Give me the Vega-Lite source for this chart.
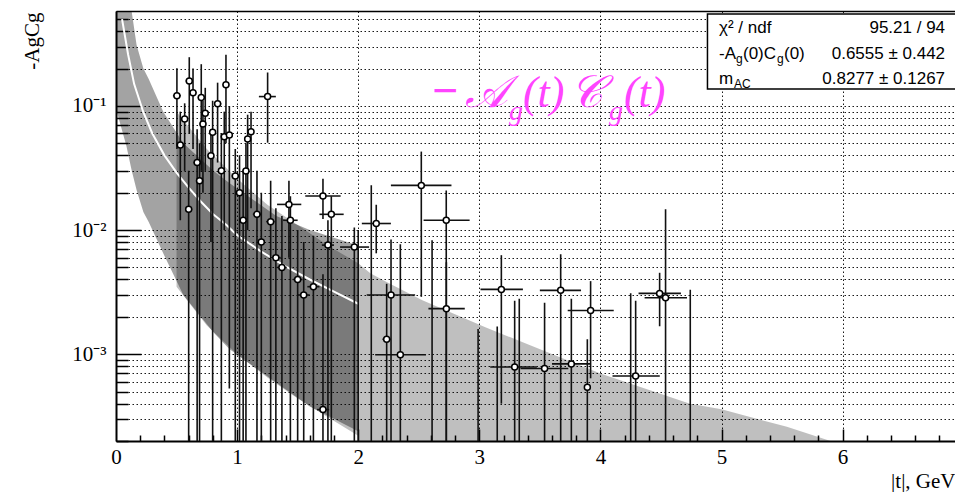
{
  "$schema": "https://vega.github.io/schema/vega-lite/v6.json",
  "width": 839,
  "height": 430,
  "autosize": {"type": "none"},
  "padding": {"left": 116, "top": 11, "right": 0, "bottom": 51},
  "background": "white",
  "config": {
    "view": {"stroke": null},
    "axis": {"labelColor": "black", "tickColor": "black", "domainColor": "black", "titleColor": "black"}
  },
  "datasets": {
    "bandB": [
      {"t": 0.5, "lo": 0.0035, "hi": 0.09},
      {"t": 0.75, "lo": 0.0017, "hi": 0.045},
      {"t": 1.0, "lo": 0.001, "hi": 0.026},
      {"t": 1.25, "lo": 0.00065, "hi": 0.016},
      {"t": 1.5, "lo": 0.00044, "hi": 0.011},
      {"t": 1.75, "lo": 0.00031, "hi": 0.0075},
      {"t": 2.0, "lo": 0.00022, "hi": 0.0054},
      {"t": 2.1, "lo": 0.00001, "hi": 0.0045},
      {"t": 2.25, "lo": 0.00001, "hi": 0.00374},
      {"t": 2.53, "lo": 0.00001, "hi": 0.00272},
      {"t": 3.05, "lo": 0.00001, "hi": 0.00165},
      {"t": 3.42, "lo": 0.00001, "hi": 0.00118},
      {"t": 4.0, "lo": 0.00001, "hi": 0.0007},
      {"t": 4.74, "lo": 0.00001, "hi": 0.0004},
      {"t": 5.0, "lo": 0.00001, "hi": 0.00036},
      {"t": 5.54, "lo": 0.00001, "hi": 0.00026},
      {"t": 5.9, "lo": 0.00001, "hi": 0.0002},
      {"t": 6.0, "lo": 0.00001, "hi": 0.00018}
    ],
    "bandA": [
      {"t": 0.0, "lo": 0.095, "hi": 2.0},
      {"t": 0.085, "lo": 0.048, "hi": 0.9},
      {"t": 0.13, "lo": 0.03, "hi": 0.57},
      {"t": 0.17, "lo": 0.021, "hi": 0.31},
      {"t": 0.226, "lo": 0.014, "hi": 0.2},
      {"t": 0.27, "lo": 0.0116, "hi": 0.165},
      {"t": 0.39, "lo": 0.0065, "hi": 0.09},
      {"t": 0.556, "lo": 0.003, "hi": 0.05},
      {"t": 0.804, "lo": 0.0015, "hi": 0.03},
      {"t": 0.936, "lo": 0.0011, "hi": 0.024},
      {"t": 1.324, "lo": 0.00059, "hi": 0.013},
      {"t": 1.6, "lo": 0.00038, "hi": 0.01},
      {"t": 2.0, "lo": 0.00024, "hi": 0.0075}
    ],
    "fit": [
      {"t": 0.05, "f": 0.5}, {"t": 0.1, "f": 0.26}, {"t": 0.15, "f": 0.15}, {"t": 0.225, "f": 0.0895},
      {"t": 0.3, "f": 0.06}, {"t": 0.4, "f": 0.04}, {"t": 0.5, "f": 0.029}, {"t": 0.6, "f": 0.022},
      {"t": 0.7, "f": 0.017}, {"t": 0.8, "f": 0.0135}, {"t": 0.912, "f": 0.011}, {"t": 1.0, "f": 0.0091},
      {"t": 1.2, "f": 0.0067}, {"t": 1.4, "f": 0.0051}, {"t": 1.6, "f": 0.004}, {"t": 1.8, "f": 0.0032},
      {"t": 2.0, "f": 0.00255}
    ],
    "pts": [
      {"t": 0.503, "tl": 0.47, "th": 0.535, "v": 0.121, "vl": 0.045, "vh": 0.201},
      {"t": 0.531, "tl": 0.5, "th": 0.56, "v": 0.0484, "vl": 0.012, "vh": 0.09},
      {"t": 0.567, "tl": 0.54, "th": 0.595, "v": 0.0786, "vl": 0.03, "vh": 0.105},
      {"t": 0.6, "tl": 0.57, "th": 0.63, "v": 0.0147, "vl": 0.000001, "vh": 0.03},
      {"t": 0.605, "tl": 0.575, "th": 0.635, "v": 0.159, "vl": 0.06, "vh": 0.247},
      {"t": 0.636, "tl": 0.61, "th": 0.665, "v": 0.128, "vl": 0.045, "vh": 0.2},
      {"t": 0.67, "tl": 0.64, "th": 0.7, "v": 0.035, "vl": 0.000001, "vh": 0.065},
      {"t": 0.69, "tl": 0.66, "th": 0.72, "v": 0.025, "vl": 0.000001, "vh": 0.05},
      {"t": 0.704, "tl": 0.675, "th": 0.735, "v": 0.117, "vl": 0.03, "vh": 0.217},
      {"t": 0.718, "tl": 0.69, "th": 0.745, "v": 0.0716, "vl": 0.02, "vh": 0.11},
      {"t": 0.737, "tl": 0.71, "th": 0.765, "v": 0.0873, "vl": 0.03, "vh": 0.14},
      {"t": 0.784, "tl": 0.755, "th": 0.81, "v": 0.0398, "vl": 0.008, "vh": 0.065},
      {"t": 0.798, "tl": 0.77, "th": 0.825, "v": 0.0613, "vl": 0.000001, "vh": 0.11},
      {"t": 0.839, "tl": 0.81, "th": 0.87, "v": 0.104, "vl": 0.035, "vh": 0.154},
      {"t": 0.87, "tl": 0.845, "th": 0.895, "v": 0.03, "vl": 0.000001, "vh": 0.06},
      {"t": 0.894, "tl": 0.865, "th": 0.92, "v": 0.0565, "vl": 0.01, "vh": 0.09},
      {"t": 0.908, "tl": 0.88, "th": 0.935, "v": 0.148, "vl": 0.05, "vh": 0.258},
      {"t": 0.936, "tl": 0.91, "th": 0.96, "v": 0.0583, "vl": 0.00053, "vh": 0.1},
      {"t": 0.985, "tl": 0.955, "th": 1.015, "v": 0.0273, "vl": 0.000001, "vh": 0.045},
      {"t": 1.02, "tl": 0.99, "th": 1.05, "v": 0.02, "vl": 0.000001, "vh": 0.04},
      {"t": 1.05, "tl": 1.02, "th": 1.08, "v": 0.012, "vl": 0.000001, "vh": 0.03},
      {"t": 1.073, "tl": 1.045, "th": 1.1, "v": 0.0299, "vl": 0.000001, "vh": 0.05},
      {"t": 1.087, "tl": 1.06, "th": 1.115, "v": 0.0542, "vl": 0.01, "vh": 0.085},
      {"t": 1.115, "tl": 1.09, "th": 1.14, "v": 0.0621, "vl": 0.015, "vh": 0.09},
      {"t": 1.164, "tl": 1.13, "th": 1.2, "v": 0.0134, "vl": 0.000001, "vh": 0.03},
      {"t": 1.2, "tl": 1.17, "th": 1.23, "v": 0.008, "vl": 0.000001, "vh": 0.02},
      {"t": 1.252, "tl": 1.18, "th": 1.32, "v": 0.119, "vl": 0.0506, "vh": 0.186},
      {"t": 1.277, "tl": 1.24, "th": 1.31, "v": 0.0117, "vl": 0.000001, "vh": 0.025},
      {"t": 1.32, "tl": 1.28, "th": 1.36, "v": 0.006, "vl": 0.000001, "vh": 0.015},
      {"t": 1.37, "tl": 1.33, "th": 1.41, "v": 0.005, "vl": 0.000001, "vh": 0.013},
      {"t": 1.428, "tl": 1.33, "th": 1.53, "v": 0.0161, "vl": 0.006, "vh": 0.025},
      {"t": 1.44, "tl": 1.38, "th": 1.5, "v": 0.012, "vl": 0.000001, "vh": 0.0187},
      {"t": 1.5, "tl": 1.46, "th": 1.54, "v": 0.004, "vl": 0.000001, "vh": 0.01},
      {"t": 1.55, "tl": 1.5, "th": 1.6, "v": 0.003, "vl": 0.000001, "vh": 0.008},
      {"t": 1.63, "tl": 1.58, "th": 1.68, "v": 0.0035, "vl": 0.000001, "vh": 0.009},
      {"t": 1.709, "tl": 1.563, "th": 1.855, "v": 0.0188, "vl": 0.0123, "vh": 0.0259},
      {"t": 1.778, "tl": 1.68, "th": 1.88, "v": 0.0134, "vl": 0.000001, "vh": 0.0187},
      {"t": 1.75, "tl": 1.7, "th": 1.8, "v": 0.00757, "vl": 0.000001, "vh": 0.012},
      {"t": 1.709, "tl": 1.66, "th": 1.76, "v": 0.000358, "vl": 0.000001, "vh": 0.0044},
      {"t": 1.968, "tl": 1.85, "th": 2.09, "v": 0.0073, "vl": 0.000001, "vh": 0.0105},
      {"t": 2.149, "tl": 2.03, "th": 2.27, "v": 0.0113, "vl": 0.0065, "vh": 0.016},
      {"t": 2.521, "tl": 2.27, "th": 2.77, "v": 0.0229, "vl": 0.0029, "vh": 0.0429},
      {"t": 2.727, "tl": 2.54, "th": 2.92, "v": 0.012, "vl": 0.000001, "vh": 0.0208},
      {"t": 2.271, "tl": 2.07, "th": 2.47, "v": 0.003, "vl": 0.000001, "vh": 0.0084},
      {"t": 2.235, "tl": 2.2, "th": 2.27, "v": 0.00132, "vl": 0.000001, "vh": 0.0037},
      {"t": 2.348, "tl": 2.14, "th": 2.56, "v": 0.00099, "vl": 0.000001, "vh": 0.0077},
      {"t": 2.728, "tl": 2.58, "th": 2.88, "v": 0.00233, "vl": 0.000001, "vh": 0.0055},
      {"t": 3.182, "tl": 3.01, "th": 3.36, "v": 0.00333, "vl": 0.0004, "vh": 0.00628},
      {"t": 3.672, "tl": 3.5, "th": 3.84, "v": 0.00327, "vl": 0.000001, "vh": 0.0064},
      {"t": 3.919, "tl": 3.73, "th": 4.11, "v": 0.00225, "vl": 0.00064, "vh": 0.00388},
      {"t": 3.292, "tl": 3.09, "th": 3.475, "v": 0.00079, "vl": 0.000001, "vh": 0.0027},
      {"t": 3.539, "tl": 3.34, "th": 3.735, "v": 0.000767, "vl": 0.000001, "vh": 0.0026},
      {"t": 3.76, "tl": 3.6, "th": 3.92, "v": 0.000836, "vl": 0.000001, "vh": 0.0028},
      {"t": 3.892, "tl": 3.87, "th": 3.915, "v": 0.000542, "vl": 0.000001, "vh": 0.00132},
      {"t": 4.291, "tl": 4.1, "th": 4.49, "v": 0.000668, "vl": 0.000001, "vh": 0.0027},
      {"t": 4.489, "tl": 4.315, "th": 4.665, "v": 0.00309, "vl": 0.00168, "vh": 0.00453},
      {"t": 4.538, "tl": 4.365, "th": 4.715, "v": 0.00285, "vl": 0.000001, "vh": 0.0147},
      {"t": 2.0, "tl": null, "th": null, "v": null, "vl": 0.000001, "vh": 0.01},
      {"t": 2.108, "tl": null, "th": null, "v": null, "vl": 0.000001, "vh": 0.023},
      {"t": 2.61, "tl": null, "th": null, "v": null, "vl": 0.000001, "vh": 0.0083},
      {"t": 2.99, "tl": null, "th": null, "v": null, "vl": 0.000001, "vh": 0.0016},
      {"t": 3.148, "tl": null, "th": null, "v": null, "vl": 0.000001, "vh": 0.00167},
      {"t": 3.33, "tl": null, "th": null, "v": null, "vl": 0.000001, "vh": 0.0028},
      {"t": 4.25, "tl": null, "th": null, "v": null, "vl": 0.000001, "vh": 0.0031},
      {"t": 4.742, "tl": null, "th": null, "v": null, "vl": 0.000001, "vh": 0.0033}
    ],
    "stats": [
      {"key": "chi", "a": "χ² / ndf", "val": "95.21 / 94"},
      {"key": "amp", "a": "-A", "s1": "g", "b": "(0)C", "s2": "g", "c": "(0)", "val": "0.6555 ± 0.442"},
      {"key": "mass", "a": "m", "s1": "AC", "val": "0.8277 ± 0.1267"}
    ],
    "label": [
      {"m": "−", "A": "𝒜", "g": "g", "p": "(t)", "C": "𝒞"}
    ]
  },
  "resolve": {"axis": {"x": "independent", "y": "independent"}},
  "layer": [
    {
      "data": {"name": "bandB"},
      "mark": {"type": "area", "color": "#000000", "opacity": 0.25, "clip": true},
      "encoding": {
        "x": {"field": "t", "type": "quantitative", "scale": {"domain": [0, 6.928], "nice": false, "zero": false},
          "axis": {"orient": "bottom", "values": [0, 1, 2, 3, 4, 5, 6], "format": "d", "ticks": false,
            "labelFont": "Liberation Serif", "labelFontSize": 21, "labelPadding": 5, "labelFlush": false, "labelOverlap": false,
            "grid": true, "gridColor": "black", "gridDash": [1.5, 2.5], "gridWidth": 1, "gridOpacity": 0.9,
            "domain": true, "domainWidth": 2,
            "title": "|t|, GeV", "titleFont": "Liberation Serif", "titleFontSize": 21, "titleFontWeight": "normal",
            "titleAnchor": "end", "titleAlign": "right", "titleBaseline": "alphabetic", "titleX": 839, "titleY": 46}},
        "y": {"field": "hi", "type": "quantitative", "scale": {"type": "log", "domain": [0.0002, 0.582], "nice": false},
          "axis": {"orient": "left",
            "values": [0.0002, 0.0003, 0.0004, 0.0005, 0.0006, 0.0007, 0.0008, 0.0009, 0.001, 0.002, 0.003, 0.004, 0.005, 0.006, 0.007, 0.008, 0.009, 0.01, 0.02, 0.03, 0.04, 0.05, 0.06, 0.07, 0.08, 0.09, 0.1, 0.2, 0.3, 0.4, 0.5],
            "labelExpr": "abs(datum.value-0.1)<1e-9 ? '10⁻¹' : abs(datum.value-0.01)<1e-10 ? '10⁻²' : abs(datum.value-0.001)<1e-11 ? '10⁻³' : ''",
            "ticks": false, "labelFont": "Liberation Serif", "labelFontSize": 21, "labelPadding": 10, "labelBaseline": "middle",
            "labelFlush": false, "labelOverlap": false,
            "grid": true, "gridColor": "black", "gridDash": [1.5, 2.5], "gridWidth": 1, "gridOpacity": 0.9,
            "domain": true, "domainWidth": 2,
            "title": "-AgCg", "titleFont": "Liberation Serif", "titleFontSize": 21, "titleFontWeight": "normal",
            "titleAngle": 270, "titleAlign": "right", "titleBaseline": "alphabetic", "titleX": -78, "titleY": 1}},
        "y2": {"field": "lo"}
      }
    },
    {
      "data": {"name": "bandA"},
      "mark": {"type": "area", "color": "#000000", "opacity": 0.36, "clip": true},
      "encoding": {
        "x": {"field": "t", "type": "quantitative", "scale": {"domain": [0, 6.928], "nice": false, "zero": false},
          "axis": {"orient": "bottom", "values": [1, 2, 3, 4, 5, 6], "labels": false, "grid": false, "domain": false,
            "ticks": true, "tickSize": -12, "tickWidth": 1.5, "title": null}},
        "y": {"field": "hi", "type": "quantitative", "scale": {"type": "log", "domain": [0.0002, 0.582], "nice": false},
          "axis": {"orient": "left", "values": [0.001, 0.01, 0.1], "labels": false, "grid": false, "domain": false,
            "ticks": true, "tickSize": -25, "tickWidth": 1.5, "title": null}},
        "y2": {"field": "lo"}
      }
    },
    {
      "data": {"name": "fit"},
      "mark": {"type": "line", "color": "white", "strokeWidth": 2, "clip": true},
      "encoding": {
        "x": {"field": "t", "type": "quantitative", "scale": {"domain": [0, 6.928], "nice": false, "zero": false},
          "axis": {"orient": "bottom", "values": [0.2, 0.4, 0.6, 0.8, 1.2, 1.4, 1.6, 1.8, 2.2, 2.4, 2.6, 2.8, 3.2, 3.4, 3.6, 3.8, 4.2, 4.4, 4.6, 4.8, 5.2, 5.4, 5.6, 5.8, 6.2, 6.4, 6.6, 6.8],
            "labels": false, "grid": false, "domain": false, "ticks": true, "tickSize": -6, "tickWidth": 1.5, "title": null}},
        "y": {"field": "f", "type": "quantitative", "scale": {"type": "log", "domain": [0.0002, 0.582], "nice": false},
          "axis": {"orient": "left",
            "values": [0.0002, 0.0003, 0.0004, 0.0005, 0.0006, 0.0007, 0.0008, 0.0009, 0.002, 0.003, 0.004, 0.005, 0.006, 0.007, 0.008, 0.009, 0.02, 0.03, 0.04, 0.05, 0.06, 0.07, 0.08, 0.09, 0.2, 0.3, 0.4, 0.5],
            "labels": false, "grid": false, "domain": false, "ticks": true, "tickSize": -12, "tickWidth": 1.5, "title": null}}
      }
    },
    {
      "data": {"name": "pts"},
      "mark": {"type": "rule", "color": "#111111", "strokeWidth": 1.6, "clip": true},
      "encoding": {
        "x": {"field": "t", "type": "quantitative", "scale": {"domain": [0, 6.928], "nice": false, "zero": false},
          "axis": {"orient": "top", "labels": false, "ticks": false, "grid": false, "domain": true, "domainWidth": 1.5, "title": null}},
        "y": {"field": "vl", "type": "quantitative", "scale": {"type": "log", "domain": [0.0002, 0.582], "nice": false}, "axis": null},
        "y2": {"field": "vh"}
      }
    },
    {
      "data": {"name": "pts"},
      "transform": [{"filter": "datum.v != null"}],
      "mark": {"type": "rule", "color": "#111111", "strokeWidth": 1.6, "clip": true},
      "encoding": {
        "x": {"field": "tl", "type": "quantitative", "scale": {"domain": [0, 6.928], "nice": false, "zero": false}, "axis": null},
        "x2": {"field": "th"},
        "y": {"field": "v", "type": "quantitative", "scale": {"type": "log", "domain": [0.0002, 0.582], "nice": false}, "axis": null}
      }
    },
    {
      "data": {"name": "pts"},
      "transform": [{"filter": "datum.v != null && datum.v > 0.0002"}],
      "mark": {"type": "point", "shape": "circle", "filled": true, "fill": "white", "stroke": "black", "strokeWidth": 1.5, "size": 36, "opacity": 1, "clip": true},
      "encoding": {
        "x": {"field": "t", "type": "quantitative", "scale": {"domain": [0, 6.928], "nice": false, "zero": false}, "axis": null},
        "y": {"field": "v", "type": "quantitative", "scale": {"type": "log", "domain": [0.0002, 0.582], "nice": false}, "axis": null}
      }
    },
    {
      "data": {"name": "stats"},
      "transform": [{"filter": "datum.key == 'chi'"}],
      "mark": {"type": "rect", "fill": "white", "stroke": "black", "strokeWidth": 1.5},
      "encoding": {
        "x": {"datum": 4.884, "type": "quantitative", "scale": {"domain": [0, 6.928], "nice": false, "zero": false}, "axis": null},
        "x2": {"datum": 7.1},
        "y": {"datum": 0.5504, "type": "quantitative", "scale": {"type": "log", "domain": [0.0002, 0.582], "nice": false}, "axis": null},
        "y2": {"datum": 0.1369}
      }
    },
    {
      "data": {"name": "stats"},
      "transform": [{"filter": "datum.key == 'chi'"}],
      "mark": {"type": "text", "font": "Liberation Sans", "fontSize": 17, "align": "left", "baseline": "alphabetic", "color": "black"},
      "encoding": {
        "x": {"datum": 4.979, "type": "quantitative", "scale": {"domain": [0, 6.928], "nice": false, "zero": false}, "axis": null},
        "y": {"datum": 0.3847, "type": "quantitative", "scale": {"type": "log", "domain": [0.0002, 0.582], "nice": false}, "axis": null},
        "text": {"field": "a"}
      }
    },
    {
      "data": {"name": "stats"},
      "transform": [{"filter": "datum.key == 'chi'"}],
      "mark": {"type": "text", "font": "Liberation Sans", "fontSize": 17, "align": "right", "baseline": "alphabetic", "color": "black"},
      "encoding": {
        "x": {"datum": 6.846, "type": "quantitative", "scale": {"domain": [0, 6.928], "nice": false, "zero": false}, "axis": null},
        "y": {"datum": 0.3847, "type": "quantitative", "scale": {"type": "log", "domain": [0.0002, 0.582], "nice": false}, "axis": null},
        "text": {"field": "val"}
      }
    },
    {
      "data": {"name": "stats"},
      "transform": [{"filter": "datum.key == 'amp'"}],
      "mark": {"type": "text", "font": "Liberation Sans", "fontSize": 17, "align": "left", "baseline": "alphabetic", "color": "black"},
      "encoding": {
        "x": {"datum": 4.979, "type": "quantitative", "scale": {"domain": [0, 6.928], "nice": false, "zero": false}, "axis": null},
        "y": {"datum": 0.2388, "type": "quantitative", "scale": {"type": "log", "domain": [0.0002, 0.582], "nice": false}, "axis": null},
        "text": {"field": "a"}
      }
    },
    {
      "data": {"name": "stats"},
      "transform": [{"filter": "datum.key == 'amp'"}],
      "mark": {"type": "text", "font": "Liberation Sans", "fontSize": 12, "align": "left", "baseline": "alphabetic", "color": "black", "dx": 17, "dy": 4},
      "encoding": {
        "x": {"datum": 4.979, "type": "quantitative", "scale": {"domain": [0, 6.928], "nice": false, "zero": false}, "axis": null},
        "y": {"datum": 0.2388, "type": "quantitative", "scale": {"type": "log", "domain": [0.0002, 0.582], "nice": false}, "axis": null},
        "text": {"field": "s1"}
      }
    },
    {
      "data": {"name": "stats"},
      "transform": [{"filter": "datum.key == 'amp'"}],
      "mark": {"type": "text", "font": "Liberation Sans", "fontSize": 17, "align": "left", "baseline": "alphabetic", "color": "black", "dx": 24},
      "encoding": {
        "x": {"datum": 4.979, "type": "quantitative", "scale": {"domain": [0, 6.928], "nice": false, "zero": false}, "axis": null},
        "y": {"datum": 0.2388, "type": "quantitative", "scale": {"type": "log", "domain": [0.0002, 0.582], "nice": false}, "axis": null},
        "text": {"field": "b"}
      }
    },
    {
      "data": {"name": "stats"},
      "transform": [{"filter": "datum.key == 'amp'"}],
      "mark": {"type": "text", "font": "Liberation Sans", "fontSize": 12, "align": "left", "baseline": "alphabetic", "color": "black", "dx": 58, "dy": 4},
      "encoding": {
        "x": {"datum": 4.979, "type": "quantitative", "scale": {"domain": [0, 6.928], "nice": false, "zero": false}, "axis": null},
        "y": {"datum": 0.2388, "type": "quantitative", "scale": {"type": "log", "domain": [0.0002, 0.582], "nice": false}, "axis": null},
        "text": {"field": "s2"}
      }
    },
    {
      "data": {"name": "stats"},
      "transform": [{"filter": "datum.key == 'amp'"}],
      "mark": {"type": "text", "font": "Liberation Sans", "fontSize": 17, "align": "left", "baseline": "alphabetic", "color": "black", "dx": 65},
      "encoding": {
        "x": {"datum": 4.979, "type": "quantitative", "scale": {"domain": [0, 6.928], "nice": false, "zero": false}, "axis": null},
        "y": {"datum": 0.2388, "type": "quantitative", "scale": {"type": "log", "domain": [0.0002, 0.582], "nice": false}, "axis": null},
        "text": {"field": "c"}
      }
    },
    {
      "data": {"name": "stats"},
      "transform": [{"filter": "datum.key == 'amp'"}],
      "mark": {"type": "text", "font": "Liberation Sans", "fontSize": 17, "align": "right", "baseline": "alphabetic", "color": "black"},
      "encoding": {
        "x": {"datum": 6.846, "type": "quantitative", "scale": {"domain": [0, 6.928], "nice": false, "zero": false}, "axis": null},
        "y": {"datum": 0.2388, "type": "quantitative", "scale": {"type": "log", "domain": [0.0002, 0.582], "nice": false}, "axis": null},
        "text": {"field": "val"}
      }
    },
    {
      "data": {"name": "stats"},
      "transform": [{"filter": "datum.key == 'mass'"}],
      "mark": {"type": "text", "font": "Liberation Sans", "fontSize": 17, "align": "left", "baseline": "alphabetic", "color": "black"},
      "encoding": {
        "x": {"datum": 4.979, "type": "quantitative", "scale": {"domain": [0, 6.928], "nice": false, "zero": false}, "axis": null},
        "y": {"datum": 0.1516, "type": "quantitative", "scale": {"type": "log", "domain": [0.0002, 0.582], "nice": false}, "axis": null},
        "text": {"field": "a"}
      }
    },
    {
      "data": {"name": "stats"},
      "transform": [{"filter": "datum.key == 'mass'"}],
      "mark": {"type": "text", "font": "Liberation Sans", "fontSize": 12, "align": "left", "baseline": "alphabetic", "color": "black", "dx": 15, "dy": 4},
      "encoding": {
        "x": {"datum": 4.979, "type": "quantitative", "scale": {"domain": [0, 6.928], "nice": false, "zero": false}, "axis": null},
        "y": {"datum": 0.1516, "type": "quantitative", "scale": {"type": "log", "domain": [0.0002, 0.582], "nice": false}, "axis": null},
        "text": {"field": "s1"}
      }
    },
    {
      "data": {"name": "stats"},
      "transform": [{"filter": "datum.key == 'mass'"}],
      "mark": {"type": "text", "font": "Liberation Sans", "fontSize": 17, "align": "right", "baseline": "alphabetic", "color": "black"},
      "encoding": {
        "x": {"datum": 6.846, "type": "quantitative", "scale": {"domain": [0, 6.928], "nice": false, "zero": false}, "axis": null},
        "y": {"datum": 0.1516, "type": "quantitative", "scale": {"type": "log", "domain": [0.0002, 0.582], "nice": false}, "axis": null},
        "text": {"field": "val"}
      }
    },
    {
      "data": {"name": "label"},
      "mark": {"type": "text", "font": "Liberation Serif", "fontSize": 46, "fontWeight": "bold", "align": "left", "baseline": "alphabetic", "color": "#ff44ff", "dx": 0, "dy": -1},
      "encoding": {
        "x": {"datum": 2.609, "type": "quantitative", "scale": {"domain": [0, 6.928], "nice": false, "zero": false}, "axis": null},
        "y": {"datum": 0.098, "type": "quantitative", "scale": {"type": "log", "domain": [0.0002, 0.582], "nice": false}, "axis": null},
        "text": {"field": "m"}
      }
    },
    {
      "data": {"name": "label"},
      "mark": {"type": "text", "font": "Liberation Serif", "fontSize": 45, "fontStyle": "italic", "align": "left", "baseline": "alphabetic", "color": "#ff44ff", "dx": 33},
      "encoding": {
        "x": {"datum": 2.609, "type": "quantitative", "scale": {"domain": [0, 6.928], "nice": false, "zero": false}, "axis": null},
        "y": {"datum": 0.098, "type": "quantitative", "scale": {"type": "log", "domain": [0.0002, 0.582], "nice": false}, "axis": null},
        "text": {"field": "A"}
      }
    },
    {
      "data": {"name": "label"},
      "mark": {"type": "text", "font": "Liberation Serif", "fontSize": 28, "fontStyle": "italic", "align": "left", "baseline": "alphabetic", "color": "#ff44ff", "dx": 77, "dy": 13},
      "encoding": {
        "x": {"datum": 2.609, "type": "quantitative", "scale": {"domain": [0, 6.928], "nice": false, "zero": false}, "axis": null},
        "y": {"datum": 0.098, "type": "quantitative", "scale": {"type": "log", "domain": [0.0002, 0.582], "nice": false}, "axis": null},
        "text": {"field": "g"}
      }
    },
    {
      "data": {"name": "label"},
      "mark": {"type": "text", "font": "Liberation Serif", "fontSize": 44, "fontStyle": "italic", "align": "left", "baseline": "alphabetic", "color": "#ff44ff", "dx": 91},
      "encoding": {
        "x": {"datum": 2.609, "type": "quantitative", "scale": {"domain": [0, 6.928], "nice": false, "zero": false}, "axis": null},
        "y": {"datum": 0.098, "type": "quantitative", "scale": {"type": "log", "domain": [0.0002, 0.582], "nice": false}, "axis": null},
        "text": {"field": "p"}
      }
    },
    {
      "data": {"name": "label"},
      "mark": {"type": "text", "font": "Liberation Serif", "fontSize": 45, "fontStyle": "italic", "align": "left", "baseline": "alphabetic", "color": "#ff44ff", "dx": 138},
      "encoding": {
        "x": {"datum": 2.609, "type": "quantitative", "scale": {"domain": [0, 6.928], "nice": false, "zero": false}, "axis": null},
        "y": {"datum": 0.098, "type": "quantitative", "scale": {"type": "log", "domain": [0.0002, 0.582], "nice": false}, "axis": null},
        "text": {"field": "C"}
      }
    },
    {
      "data": {"name": "label"},
      "mark": {"type": "text", "font": "Liberation Serif", "fontSize": 28, "fontStyle": "italic", "align": "left", "baseline": "alphabetic", "color": "#ff44ff", "dx": 177, "dy": 13},
      "encoding": {
        "x": {"datum": 2.609, "type": "quantitative", "scale": {"domain": [0, 6.928], "nice": false, "zero": false}, "axis": null},
        "y": {"datum": 0.098, "type": "quantitative", "scale": {"type": "log", "domain": [0.0002, 0.582], "nice": false}, "axis": null},
        "text": {"field": "g"}
      }
    },
    {
      "data": {"name": "label"},
      "mark": {"type": "text", "font": "Liberation Serif", "fontSize": 44, "fontStyle": "italic", "align": "left", "baseline": "alphabetic", "color": "#ff44ff", "dx": 192},
      "encoding": {
        "x": {"datum": 2.609, "type": "quantitative", "scale": {"domain": [0, 6.928], "nice": false, "zero": false}, "axis": null},
        "y": {"datum": 0.098, "type": "quantitative", "scale": {"type": "log", "domain": [0.0002, 0.582], "nice": false}, "axis": null},
        "text": {"field": "p"}
      }
    }
  ]
}
